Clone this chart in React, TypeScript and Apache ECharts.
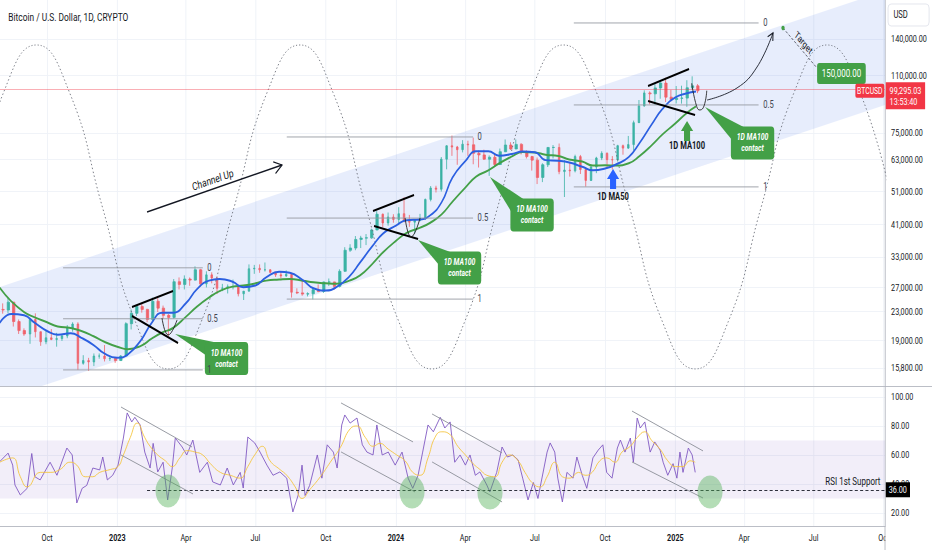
import React, { useEffect, useRef } from 'react';
import * as echarts from 'echarts';

const FONT = 'Roboto, "Noto Sans", "DejaVu Sans", sans-serif';
const DAY_MS = 86400000;
const ORIGIN = Date.UTC(2022, 9, 1);
const OUTER_W = 932;
const OUTER_H = 550;
const INNER_W = 1226;
const SQUASH = OUTER_W / INNER_W;
const AXIS_W = 61.8;

const TITLE = 'Bitcoin / U.S. Dollar, 1D, CRYPTO';
const X_MIN_DAY = -61.6;
const X_MAX_DAY = 1097.6;
const PRICE_MIN = 14022;
const PRICE_MAX = 181300;
const RSI_MIN = 11;
const RSI_MAX = 106.9;

const X_TICK_DATES = ['2022-10-01', '2023-01-01', '2023-04-01', '2023-07-01', '2023-10-01', '2024-01-01', '2024-04-01', '2024-07-01', '2024-10-01', '2025-01-01', '2025-04-01', '2025-07-01', '2025-10-01'];
const X_TICK_LABELS = ['Oct', '2023', 'Apr', 'Jul', 'Oct', '2024', 'Apr', 'Jul', 'Oct', '2025', 'Apr', 'Jul', 'Oct'];
const PRICE_TICKS = [15800, 19000, 23000, 27000, 33000, 41000, 51000, 63000, 75000, 110000, 140000];
const RSI_TICKS = [20, 40, 60, 80, 100];

const WEEK_START = [
  '2022-08-01', '2022-08-08', '2022-08-15', '2022-08-22', '2022-08-29', '2022-09-05', '2022-09-12', '2022-09-19', '2022-09-26', '2022-10-03', '2022-10-10', '2022-10-17', '2022-10-24', '2022-10-31', '2022-11-07', '2022-11-14', '2022-11-21', '2022-11-28', '2022-12-05', '2022-12-12', '2022-12-19', '2022-12-26',
  '2023-01-02', '2023-01-09', '2023-01-16', '2023-01-23', '2023-01-30', '2023-02-06', '2023-02-13', '2023-02-20', '2023-02-27', '2023-03-06', '2023-03-13', '2023-03-20', '2023-03-27', '2023-04-03', '2023-04-10', '2023-04-17', '2023-04-24', '2023-05-01', '2023-05-08', '2023-05-15', '2023-05-22', '2023-05-29', '2023-06-05', '2023-06-12', '2023-06-19', '2023-06-26', '2023-07-03', '2023-07-10', '2023-07-17', '2023-07-24', '2023-07-31', '2023-08-07', '2023-08-14', '2023-08-21', '2023-08-28', '2023-09-04', '2023-09-11', '2023-09-18', '2023-09-25', '2023-10-02', '2023-10-09', '2023-10-16', '2023-10-23', '2023-10-30', '2023-11-06', '2023-11-13', '2023-11-20', '2023-11-27', '2023-12-04', '2023-12-11', '2023-12-18', '2023-12-25',
  '2024-01-01', '2024-01-08', '2024-01-15', '2024-01-22', '2024-01-29', '2024-02-05', '2024-02-12', '2024-02-19', '2024-02-26', '2024-03-04', '2024-03-11', '2024-03-18', '2024-03-25', '2024-04-01', '2024-04-08', '2024-04-15', '2024-04-22', '2024-04-29', '2024-05-06', '2024-05-13', '2024-05-20', '2024-05-27', '2024-06-03', '2024-06-10', '2024-06-17', '2024-06-24', '2024-07-01', '2024-07-08', '2024-07-15', '2024-07-22', '2024-07-29', '2024-08-05', '2024-08-12', '2024-08-19', '2024-08-26', '2024-09-02', '2024-09-09', '2024-09-16', '2024-09-23', '2024-09-30', '2024-10-07', '2024-10-14', '2024-10-21', '2024-10-28', '2024-11-04', '2024-11-11', '2024-11-18', '2024-11-25', '2024-12-02', '2024-12-09', '2024-12-16', '2024-12-23', '2024-12-30',
  '2025-01-06', '2025-01-13', '2025-01-20', '2025-01-27',
];
const OPEN = [
  23300, 23200, 24450, 21500, 20250, 19800, 21800, 20100, 18800, 19300, 19100, 19200, 19550, 20600, 21150, 16300, 16600, 16450, 17100, 17100, 16800, 16850,
  16600, 17100, 21200, 22700, 23750, 23300, 21800, 24600, 23500, 22400, 22100, 28000, 27500, 28500, 28300, 30300, 27600, 29300, 28700, 26800, 26850, 27100, 27100, 25850, 26300, 30500, 30600, 30300, 30300, 29800, 29300, 29100, 29400, 26100, 26000, 25800, 25850, 26550, 26250, 27950, 27950, 27150, 30000, 34500, 35000, 37050, 37400, 37450, 39450, 43800, 41350, 43000,
  42300, 43950, 41800, 41550, 42050, 42600, 48300, 52100, 51700, 63100, 68950, 68400, 67200, 69700, 69400, 65600, 64900, 63100, 63900, 60900, 66300, 69300, 67500, 69600, 66200, 64200, 62700, 55900, 60800, 68200, 68200, 58100, 58700, 58400, 64200, 58900, 54800, 59900, 63600, 65600, 62900, 62800, 69000, 67900, 69500, 80400, 89800, 97900, 97300, 101200, 104500, 95200, 93700,
  94500, 94600, 101300, 102600,
];
const HIGH = [
  24250, 25200, 24450, 21800, 20550, 21800, 22700, 20100, 20300, 20450, 19950, 19700, 21000, 21400, 21400, 17200, 16900, 17400, 17400, 18400, 17000, 16950,
  17200, 21400, 23300, 23800, 24250, 23400, 25200, 25100, 23900, 22600, 28500, 28800, 29200, 28800, 31000, 30500, 30000, 29800, 28800, 27600, 27500, 28400, 27300, 26200, 31400, 31300, 31400, 31800, 30400, 29900, 30000, 30200, 29700, 26800, 28200, 26100, 26900, 27500, 28000, 28600, 28000, 30400, 35200, 35900, 37900, 37950, 38400, 39800, 44700, 44000, 44300, 43800,
  45900, 49000, 43600, 42200, 43900, 48600, 52800, 52900, 64000, 69200, 73800, 68900, 71600, 71300, 72800, 66800, 67200, 64700, 65500, 67700, 71900, 70600, 71900, 70200, 66900, 64500, 63800, 61400, 68300, 69300, 70000, 62700, 61800, 65000, 64900, 59800, 60600, 64100, 66500, 66000, 64400, 69400, 69500, 73600, 81500, 93400, 99600, 98900, 104000, 105200, 108300, 99900, 102500,
  102700, 106500, 109300, 103800,
];
const LOW = [
  22650, 22700, 20800, 19800, 19550, 18550, 19350, 18300, 18500, 19000, 18200, 18900, 19250, 20100, 15600, 16150, 15500, 16000, 16800, 16500, 16550, 16350,
  16550, 17100, 20400, 22300, 22800, 21400, 21400, 22900, 21900, 19550, 21900, 26600, 26600, 27250, 28200, 27100, 26950, 27700, 25800, 26300, 25900, 26600, 25400, 24800, 26250, 29500, 29700, 29950, 29600, 28900, 28600, 28900, 25200, 25800, 25500, 25400, 24900, 26100, 26000, 27200, 26550, 26950, 29900, 34100, 34500, 35000, 35700, 37200, 39450, 40200, 40600, 41400,
  40750, 41500, 40300, 38500, 41800, 42200, 47700, 50600, 50900, 59000, 64500, 60800, 66000, 64500, 61000, 59700, 62800, 56500, 60200, 60700, 66100, 67100, 67500, 65100, 63400, 58500, 53500, 54200, 59900, 63400, 57100, 49100, 56200, 57800, 57200, 52600, 54600, 57500, 62700, 59900, 58900, 62100, 65000, 67500, 66800, 80200, 89400, 90800, 90500, 94200, 92200, 92600, 91300,
  91200, 89300, 100100, 97800,
];
const CLOSE = [
  23200, 24450, 21500, 20250, 19800, 21800, 20100, 18800, 19300, 19100, 19200, 19550, 20600, 21150, 16300, 16600, 16450, 17100, 17100, 16800, 16850, 16600,
  17100, 21200, 22700, 23750, 23300, 21800, 24600, 23500, 22400, 22100, 28000, 27500, 28500, 28300, 30300, 27600, 29300, 28700, 26800, 26850, 27100, 27100, 25850, 26300, 30500, 30600, 30300, 30300, 29800, 29300, 29100, 29400, 26100, 26000, 25800, 25850, 26550, 26250, 27950, 27950, 27150, 30000, 34500, 35000, 37050, 37400, 37450, 39450, 43800, 41350, 43000, 42300,
  43950, 41800, 41550, 42050, 42600, 48300, 52100, 51700, 63100, 68950, 68400, 67200, 69700, 69400, 65600, 64900, 63100, 63900, 60900, 66300, 69300, 67500, 69600, 66200, 64200, 62700, 55900, 60800, 68200, 68200, 58100, 58700, 58400, 64200, 58900, 54800, 59900, 63600, 65600, 62900, 62800, 69000, 67900, 69500, 80400, 89800, 97900, 97300, 101200, 104500, 95200, 93700, 94500,
  94600, 101300, 102600, 99295,
];

const MA50 = [
  ['2022-07-31', 21300], ['2022-08-15', 22600], ['2022-09-01', 22400], ['2022-09-15', 21300], ['2022-10-01', 20200], ['2022-10-15', 19700], ['2022-11-01', 19900], ['2022-11-15', 19300], ['2022-12-01', 18400], ['2022-12-15', 17400],
  ['2023-01-01', 16900], ['2023-01-15', 17300], ['2023-02-01', 19000], ['2023-02-15', 21300], ['2023-03-01', 22800], ['2023-03-15', 22800], ['2023-04-01', 24300], ['2023-04-15', 26600], ['2023-05-01', 28200], ['2023-05-15', 28500], ['2023-06-01', 28000], ['2023-06-15', 27000], ['2023-07-01', 27300], ['2023-07-15', 28800], ['2023-08-01', 29900], ['2023-08-15', 29700], ['2023-09-01', 28300], ['2023-09-15', 26800], ['2023-10-01', 26400], ['2023-10-15', 27000], ['2023-11-01', 29000], ['2023-11-15', 31800], ['2023-12-01', 35400], ['2023-12-15', 38500],
  ['2024-01-01', 40600], ['2024-01-15', 42100], ['2024-02-01', 42300], ['2024-02-15', 43500], ['2024-03-01', 47500], ['2024-03-15', 55800], ['2024-04-01', 62300], ['2024-04-15', 66500], ['2024-05-01', 66500], ['2024-05-15', 64600], ['2024-06-01', 65300], ['2024-06-15', 66400], ['2024-07-01', 66100], ['2024-07-15', 62700], ['2024-08-01', 62400], ['2024-08-15', 61700], ['2024-09-01', 60000], ['2024-09-15', 58600], ['2024-10-01', 59300], ['2024-10-15', 60900], ['2024-11-01', 64000], ['2024-11-15', 70200], ['2024-12-01', 79500], ['2024-12-15', 88000],
  ['2025-01-01', 95000], ['2025-01-15', 97500], ['2025-01-28', 98800],
];
const MA100 = [
  ['2022-07-31', 26900], ['2022-08-15', 24600], ['2022-09-01', 22900], ['2022-09-15', 22100], ['2022-10-01', 21400], ['2022-10-15', 20800], ['2022-11-01', 20600], ['2022-11-15', 20200], ['2022-12-01', 19500], ['2022-12-15', 18800],
  ['2023-01-01', 18200], ['2023-01-15', 17900], ['2023-02-01', 18300], ['2023-02-15', 19200], ['2023-03-01', 20000], ['2023-03-15', 20600], ['2023-04-01', 22200], ['2023-04-15', 23700], ['2023-05-01', 25200], ['2023-05-15', 26300], ['2023-06-01', 27100], ['2023-06-15', 27300], ['2023-07-01', 27700], ['2023-07-15', 28200], ['2023-08-01', 28400], ['2023-08-15', 28500], ['2023-09-01', 28200], ['2023-09-15', 27900], ['2023-10-01', 27700], ['2023-10-15', 27600], ['2023-11-01', 28200], ['2023-11-15', 29200], ['2023-12-01', 31500], ['2023-12-15', 34000],
  ['2024-01-01', 36700], ['2024-01-15', 38700], ['2024-02-01', 40000], ['2024-02-15', 41400], ['2024-03-01', 43800], ['2024-03-15', 47600], ['2024-04-01', 52300], ['2024-04-15', 56200], ['2024-05-01', 58600], ['2024-05-15', 61300], ['2024-06-01', 64300], ['2024-06-15', 66200], ['2024-07-01', 66000], ['2024-07-15', 65000], ['2024-08-01', 64400], ['2024-08-15', 63000], ['2024-09-01', 62100], ['2024-09-15', 60500], ['2024-10-01', 60600], ['2024-10-15', 60500], ['2024-11-01', 61400], ['2024-11-15', 64400], ['2024-12-01', 69200], ['2024-12-15', 74300],
  ['2025-01-01', 80000], ['2025-01-15', 85400], ['2025-01-28', 89500],
];

// RSI (days after 2022-10-01, value)
const RSI = [
  [-62, 55.4], [-51, 61.3], [-45, 53], [-42, 39.3], [-35, 32.4], [-26, 37], [-20, 61], [-16, 45], [-9, 42.8], [4, 55], [13, 46], [26, 64.8], [33, 60], [39, 26.9], [46, 37], [52, 39], [60, 51], [69, 49.7], [73, 58.6], [79, 42.8], [86, 46], [93, 53],
  [100, 71.7], [105, 89], [111, 82.8], [115, 86], [122, 80.7], [128, 62], [135, 51], [139, 68], [145, 48.3], [152, 55], [158, 29], [164, 51], [168, 71.7], [177, 65.5], [183, 60], [191, 70.3], [200, 48], [210, 55], [217, 41.4], [227, 39.3], [236, 51], [244, 39.3], [253, 48], [257, 37.2],
  [263, 72.4], [272, 68.3], [279, 62], [288, 53], [296, 46], [305, 48.3], [314, 44], [322, 20.7], [329, 32.4], [334, 53], [338, 32], [344, 39], [354, 60], [360, 44], [367, 67], [375, 62], [380, 51], [386, 80.7], [390, 87.6], [397, 82], [406, 85.5], [413, 67], [419, 62], [427, 60],
  [432, 80.7], [439, 60], [447, 62], [456, 53], [465, 62], [473, 44], [479, 37], [486, 46], [492, 62], [499, 80.7], [506, 76], [515, 86], [521, 78.6], [528, 82.8], [534, 55], [541, 60], [548, 53], [554, 60], [561, 46], [567, 48.3], [576, 39.3], [580, 34.5], [589, 48], [596, 65.5],
  [603, 58.6], [610, 60], [617, 56.6], [623, 44], [630, 29], [637, 41], [643, 30], [655, 62], [659, 68.3], [665, 62], [669, 44], [675, 27.6], [681, 48], [689, 44], [694, 58.6], [701, 46], [707, 37], [715, 58], [722, 63.4], [728, 67], [733, 48], [740, 44], [747, 64.8], [751, 70.3],
  [757, 62], [764, 71.7], [768, 55], [773, 85.5], [777, 78.6], [783, 82.8], [790, 62], [796, 69], [803, 63.4], [807, 55], [813, 46], [820, 54], [825, 44], [829, 62], [833, 48], [840, 64.8], [845, 60], [849, 48],
];
const RSI_MA = [
  [-62, 55], [-45, 58], [-35, 45], [-26, 38], [-9, 48], [4, 48], [17, 50], [30, 55], [39, 53], [50, 45], [60, 45], [69, 48], [83, 50], [93, 52], [100, 60], [109, 72], [118, 82], [128, 72], [135, 66], [145, 60], [155, 56], [164, 52], [174, 58], [183, 63], [194, 62], [204, 60], [214, 54], [227, 48],
  [240, 46], [253, 44], [263, 52], [272, 60], [282, 66], [292, 56], [305, 50], [314, 46], [325, 38], [334, 30], [344, 36], [358, 45], [371, 55], [384, 65], [397, 78], [406, 80], [417, 72], [427, 66], [436, 68], [447, 64], [458, 60], [469, 56], [479, 48], [489, 46], [499, 58], [508, 72],
  [517, 76], [528, 74], [538, 66], [548, 60], [558, 54], [567, 50], [576, 46], [587, 45], [596, 55], [606, 60], [617, 56], [626, 48], [637, 40], [646, 38], [655, 45], [665, 55], [675, 45], [685, 44], [696, 48], [705, 46], [714, 48], [724, 56], [733, 58], [744, 55], [753, 62], [764, 66],
  [773, 72], [783, 76], [792, 70], [803, 64], [813, 56], [823, 52], [833, 52], [842, 56], [849, 55],
];

const LAST_PRICE = 99295.03;
const COUNTDOWN = '13:53:40';
const RSI_SUPPORT = 36;
const SUPPORT_FROM_DAY = 131;
const SUPPORT_TEXT = 'RSI 1st Support';

// Drawings, in data coordinates: [days after 2022-10-01, price]
const CHANNEL_DAYS = [-61.6, 1097.6];
const CHANNEL_UPPER = [27030, 192500];
const CHANNEL_LOWER = [12780, 90380];
const SINE_POINTS = [
  [-100.0, 45950], [-56.9, 98250], [-13.8, 134540], [29.4, 98250], [72.5, 45950], [115.7, 21490], [158.8, 15700], [202.0, 21490], [245.1, 45950], [288.3, 98250], [331.4, 134540], [374.5, 98250], [417.7, 45950], [460.8, 21490], [504.0, 15700],
  [547.1, 21490], [590.3, 45950], [633.4, 98250], [676.5, 134540], [719.7, 98250], [762.8, 45950], [806.0, 21490], [849.1, 15700], [892.3, 21490], [935.4, 45950], [978.5, 98250], [1021.7, 134540], [1064.8, 98250], [1108.0, 45950],
];
const FIB_SPANS = [[21, 204], [314, 558], [690, 932]];
const FIB_PRICES = [[30700, 21900, 15600], [73100, 42700, 24950], [155700, 90400, 52500]];
const FIB_LABELS = ['0', '0.5', '1'];
const CHANNEL_ARROW = [[131, 44450], [307.8, 60720]];
const FLAG_LINES = [
  [[111.3, 23670], [165, 26330]], [[111.3, 22300], [171.6, 18650]],
  [[427, 44750], [480.7, 49740]], [[428.3, 40520], [486, 37170]],
  [[787.2, 102500], [840.9, 114700]], [[787.2, 92800], [848.8, 84570]],
];
const CUPS = [
  [[150.6, 22000], [158.5, 19670], [170.3, 21730]],
  [[469, 42720], [476.8, 37660], [488.6, 42720]],
  [[844.4, 104370], [851.0, 89360], [855.3, 87430], [860.5, 89780], [864.1, 99360]],
];
const PROJECTION = [[864.5, 93400], [903.8, 101200], [930, 116300], [950.9, 145700]];
const TARGET_LINE = [[964, 150600], [1008.5, 115500]];
const TARGET_BOX = [1040.5, 111400];
const TARGET_LABEL = '150,000.00';
const CALLOUTS = [
  [[167.7, 19800], [235.1, 16830]],
  [[486, 36920], [540.3, 30660]],
  [[580.2, 56070], [635.3, 43580]],
  [[861.9, 89190], [924.1, 70250]],
];
const MA50_ARROW = [741.4, 59120];
const MA100_ARROW = [838.3, 81280];
const RSI_TRENDS = [
  [[96.9, 93.1], [189.9, 65.5]], [[96.9, 60.0], [191.2, 33.1]],
  [[385.1, 95.9], [479.4, 69.0]], [[385.1, 62.1], [482.0, 34.5]],
  [[504.3, 88.3], [596.0, 61.4]], [[504.3, 55.2], [596.0, 27.6]],
  [[766.2, 90.3], [859.2, 62.8]], [[766.2, 55.2], [859.2, 30.3]],
];
const RSI_CIRCLES = [[158.5, 35.2], [478.1, 34.5], [580.2, 33.8], [868.4, 34.5]];

const GREEN = '#43a047';
const BLUE = '#2b5fe0';

const dayToTime = (d: number) => ORIGIN + d * DAY_MS;
const lg = (v: number) => Math.log10(v);
const fmtNum = (v: number) => v.toLocaleString('en-US', { minimumFractionDigits: 2, maximumFractionDigits: 2 });
const X_TICK_TIMES = X_TICK_DATES.map((s) => Date.parse(s));

function buildOption() {
  const candles = WEEK_START.map((w, i) => [Date.parse(w) + 3.5 * DAY_MS, lg(OPEN[i]), lg(CLOSE[i]), lg(LOW[i]), lg(HIGH[i])]);
  const gridLine = { show: true, lineStyle: { color: '#eef1f7', width: 1 } };
  const baseX = {
    type: 'value',
    min: dayToTime(X_MIN_DAY),
    max: dayToTime(X_MAX_DAY),
    axisLine: { show: true, onZero: false, lineStyle: { color: '#b2b5be' } },
    axisTick: { show: false, customValues: X_TICK_TIMES },
    splitLine: gridLine,
  };
  return {
    animation: false,
    backgroundColor: '#ffffff',
    textStyle: { fontFamily: FONT },
    title: { text: TITLE, left: 6, top: 7, textStyle: { fontSize: 11, fontWeight: 'normal', color: '#131722', fontFamily: FONT } },
    grid: [
      { left: 0, right: AXIS_W, top: 0, height: 386 },
      { left: 0, right: AXIS_W, top: 387, height: 139 },
    ],
    xAxis: [
      { ...baseX, gridIndex: 0, axisLabel: { show: false, customValues: X_TICK_TIMES } },
      {
        ...baseX,
        gridIndex: 1,
        axisLabel: {
          customValues: X_TICK_TIMES,
          margin: 7,
          fontSize: 9.5,
          color: '#131722',
          fontFamily: FONT,
          formatter: (v: number) => {
            const i = X_TICK_TIMES.findIndex((t) => Math.abs(t - v) < DAY_MS);
            const s = i >= 0 ? X_TICK_LABELS[i] : '';
            return /^\d{4}$/.test(s) ? `{y|${s}}` : s;
          },
          rich: { y: { fontWeight: 'bold', fontSize: 9.5, color: '#131722', fontFamily: FONT } },
        },
      },
    ],
    yAxis: [
      {
        type: 'value', gridIndex: 0, position: 'right', min: lg(PRICE_MIN), max: lg(PRICE_MAX),
        axisLine: { show: true, onZero: false, lineStyle: { color: '#b2b5be' } },
        axisTick: { show: false, customValues: PRICE_TICKS.map(lg) },
        axisLabel: { customValues: PRICE_TICKS.map(lg), formatter: (v: number) => fmtNum(Math.pow(10, v)), fontSize: 9.5, color: '#131722', margin: 8, fontFamily: FONT },
        splitLine: gridLine,
      },
      {
        type: 'value', gridIndex: 1, position: 'right', min: RSI_MIN, max: RSI_MAX,
        axisLine: { show: true, onZero: false, lineStyle: { color: '#b2b5be' } },
        axisTick: { show: false, customValues: RSI_TICKS },
        axisLabel: { customValues: RSI_TICKS, formatter: (v: number) => v.toFixed(2), fontSize: 9.5, color: '#131722', margin: 8, fontFamily: FONT },
        splitLine: gridLine,
      },
    ],
    series: [
      {
        type: 'custom', name: 'Channel', xAxisIndex: 0, yAxisIndex: 0, clip: true, silent: true, z: 1,
        data: [[dayToTime(CHANNEL_DAYS[0]), lg(CHANNEL_LOWER[0])]],
        encode: { x: 0, y: 1 },
        renderItem: (_params: any, api: any) => ({
          type: 'polygon',
          shape: {
            points: [
              api.coord([dayToTime(CHANNEL_DAYS[0]), lg(CHANNEL_UPPER[0])]),
              api.coord([dayToTime(CHANNEL_DAYS[1]), lg(CHANNEL_UPPER[1])]),
              api.coord([dayToTime(CHANNEL_DAYS[1]), lg(CHANNEL_LOWER[1])]),
              api.coord([dayToTime(CHANNEL_DAYS[0]), lg(CHANNEL_LOWER[0])]),
            ],
          },
          style: { fill: 'rgba(72,114,230,0.13)' },
        }),
      },
      {
        type: 'line', name: 'Cycles', xAxisIndex: 0, yAxisIndex: 0, silent: true, smooth: true, symbol: 'none',
        data: SINE_POINTS.map(([d, p]) => [dayToTime(d), lg(p)]),
        lineStyle: { color: '#6a6d78', width: 1, type: [1.5, 2.5] },
      },
      {
        type: 'candlestick', name: 'BTCUSD', xAxisIndex: 0, yAxisIndex: 0, silent: true,
        data: candles, encode: { x: 0, y: [1, 2, 3, 4] }, barWidth: 3,
        itemStyle: { color: '#3bb3a5', color0: '#f0626b', borderColor: '#3bb3a5', borderColor0: '#f0626b', borderWidth: 0.9 },
        markLine: {
          silent: true, symbol: 'none', animation: false,
          data: [{ yAxis: lg(LAST_PRICE) }],
          lineStyle: { color: 'rgba(242,54,69,0.45)', width: 1, type: 'solid' },
          label: {
            position: 'end', distance: 1, offset: [0, 6], formatter: `${fmtNum(LAST_PRICE)}\n${COUNTDOWN}`,
            backgroundColor: '#f23645', color: '#ffffff', padding: [3, 5, 2, 5], fontSize: 9.5, lineHeight: 11, fontFamily: FONT,
          },
        },
      },
      {
        type: 'line', name: '1D MA100', xAxisIndex: 0, yAxisIndex: 0, silent: true, smooth: true, symbol: 'none',
        data: MA100.map(([s, v]) => [Date.parse(s as string), lg(v as number)]),
        lineStyle: { color: GREEN, width: 2 },
      },
      {
        type: 'line', name: '1D MA50', xAxisIndex: 0, yAxisIndex: 0, silent: true, smooth: true, symbol: 'none',
        data: MA50.map(([s, v]) => [Date.parse(s as string), lg(v as number)]),
        lineStyle: { color: BLUE, width: 2 },
      },
      {
        type: 'line', name: 'RSI', xAxisIndex: 1, yAxisIndex: 1, silent: true, symbol: 'none',
        data: RSI.map(([d, v]) => [dayToTime(d), v]),
        lineStyle: { color: '#7e57c2', width: 1 },
        markArea: { silent: true, itemStyle: { color: 'rgba(126,87,194,0.1)' }, data: [[{ yAxis: 30 }, { yAxis: 70 }]] },
        markLine: {
          silent: true, symbol: 'none', animation: false,
          data: [
            [
              {
                coord: [dayToTime(SUPPORT_FROM_DAY), RSI_SUPPORT],
                lineStyle: { color: '#131722', width: 1, type: [4, 3] },
                label: { position: 'end', distance: 1, formatter: RSI_SUPPORT.toFixed(2), backgroundColor: '#000000', color: '#ffffff', padding: [3, 4, 2, 4], fontSize: 9.5, fontFamily: FONT },
              },
              { coord: [dayToTime(X_MAX_DAY), RSI_SUPPORT] },
            ],
          ],
        },
      },
      {
        type: 'line', name: 'RSI MA', xAxisIndex: 1, yAxisIndex: 1, silent: true, smooth: true, symbol: 'none',
        data: RSI_MA.map(([d, v]) => [dayToTime(d), v]),
        lineStyle: { color: '#f5c53d', width: 1 },
      },
    ],
  };
}

function buildGraphics(chart: any) {
  const P = (d: number, price: number) => chart.convertToPixel({ gridIndex: 0 }, [dayToTime(d), lg(price)]) as number[];
  const R = (d: number, v: number) => chart.convertToPixel({ gridIndex: 1 }, [dayToTime(d), v]) as number[];
  const rightX = P(X_MAX_DAY, PRICE_MAX)[0];
  const priceBottom = P(X_MAX_DAY, PRICE_MIN)[1];
  const rsiBottom = R(X_MAX_DAY, RSI_MIN)[1];
  const Z = 100;
  const els: any[] = [];
  const seg = (a: number[], b: number[], stroke: string, lineWidth: number, lineDash?: number[]) =>
    els.push({ type: 'line', silent: true, z: Z, shape: { x1: a[0], y1: a[1], x2: b[0], y2: b[1] }, style: { stroke, lineWidth, lineDash, fill: 'none' } });
  const poly = (points: number[][], stroke: string, lineWidth: number, smooth = 0) =>
    els.push({ type: 'polyline', silent: true, z: Z, shape: { points, smooth }, style: { stroke, lineWidth, fill: 'none' } });
  const label = (x: number, y: number, str: string, o: any = {}) =>
    els.push({
      type: 'text', silent: true, z: Z + 2, x, y, rotation: o.rotation || 0,
      style: {
        text: str, fill: o.fill || '#131722', fontSize: o.size || 10, fontFamily: FONT, fontWeight: o.weight || 'normal', fontStyle: o.fontStyle || 'normal',
        align: o.align || 'left', textAlign: o.align || 'left', verticalAlign: 'middle', textVerticalAlign: 'middle', lineHeight: o.lineHeight,
      },
    });
  const chevron = (tip: number[], from: number[], len: number) => {
    const dx = tip[0] - from[0];
    const dy = tip[1] - from[1];
    const L = Math.hypot(dx, dy);
    const ux = dx / L;
    const uy = dy / L;
    const arm = (a: number) => [tip[0] - len * (ux * Math.cos(a) - uy * Math.sin(a)), tip[1] - len * (ux * Math.sin(a) + uy * Math.cos(a))];
    poly([arm(Math.PI / 6), tip, arm(-Math.PI / 6)], '#131722', 1.3);
  };

  // Fibonacci levels
  FIB_SPANS.forEach((span, i) => {
    FIB_PRICES[i].forEach((price, j) => {
      const a = P(span[0], price);
      const b = P(span[1], price);
      seg(a, b, '#9598a1', 1);
      label(b[0] + 6, b[1], FIB_LABELS[j], { fill: '#434651', size: 10 });
    });
  });

  // Channel Up arrow
  const ca = P(CHANNEL_ARROW[0][0], CHANNEL_ARROW[0][1]);
  const cb = P(CHANNEL_ARROW[1][0], CHANNEL_ARROW[1][1]);
  seg(ca, cb, '#131722', 1.5);
  chevron(cb, ca, 12);
  {
    const dx = cb[0] - ca[0];
    const dy = cb[1] - ca[1];
    const L = Math.hypot(dx, dy);
    const nx = dy / L;
    const ny = -dx / L;
    const mx = (ca[0] + cb[0]) / 2 + nx * 9;
    const my = (ca[1] + cb[1]) / 2 + ny * 9;
    label(mx, my, 'Channel Up', { size: 11, align: 'center', rotation: -Math.atan2(dy, dx) });
  }

  // Flag / pennant lines
  FLAG_LINES.forEach(([a, b]) => seg(P(a[0], a[1]), P(b[0], b[1]), '#000000', 2));
  CUPS.forEach((pts) => poly(pts.map(([d, p]) => P(d, p)), '#222222', 1, 0.5));

  // Projection
  const proj = PROJECTION.map(([d, p]) => P(d, p));
  poly(proj, '#131722', 1, 0.45);
  chevron(proj[proj.length - 1], proj[proj.length - 2], 8);

  // Target
  const ta = P(TARGET_LINE[0][0], TARGET_LINE[0][1]);
  const tb = P(TARGET_LINE[1][0], TARGET_LINE[1][1]);
  seg(ta, tb, '#50535e', 1, [3, 2]);
  els.push({ type: 'circle', silent: true, z: Z + 1, shape: { cx: ta[0], cy: ta[1], r: 2.2 }, style: { fill: GREEN } });
  {
    const dx = tb[0] - ta[0];
    const dy = tb[1] - ta[1];
    const L = Math.hypot(dx, dy);
    const nx = dy / L;
    const ny = -dx / L;
    label((ta[0] + tb[0]) / 2 + nx * 7, (ta[1] + tb[1]) / 2 + ny * 7, 'Target', { size: 10, align: 'center', rotation: -Math.atan2(dy, dx) });
  }
  const tc = P(TARGET_BOX[0], TARGET_BOX[1]);
  els.push({ type: 'rect', silent: true, z: Z + 1, shape: { x: tc[0] - 32, y: tc[1] - 10.5, width: 64, height: 21, r: 3 }, style: { fill: GREEN } });
  label(tc[0], tc[1], TARGET_LABEL, { fill: '#ffffff', size: 10.5, align: 'center' });

  // MA100 contact callouts
  CALLOUTS.forEach(([tipD, cenD]) => {
    const tip = P(tipD[0], tipD[1]);
    const c = P(cenD[0], cenD[1]);
    const w = 57;
    const h = 33;
    const left = c[0] - w / 2;
    const top = c[1] - h / 2;
    els.push({ type: 'polygon', silent: true, z: Z + 1, shape: { points: [tip, [left + 1, top + 13], [left + 18, top + 1]] }, style: { fill: GREEN } });
    els.push({ type: 'rect', silent: true, z: Z + 1, shape: { x: left, y: top, width: w, height: h, r: 4 }, style: { fill: GREEN } });
    label(c[0], c[1], '1D MA100\ncontact', { fill: '#ffffff', size: 9, weight: 'bold', fontStyle: 'italic', align: 'center', lineHeight: 11 });
  });

  // Up arrows
  const upArrow = (tip: number[], color: string, text: string, textGap: number) => {
    const [x, y] = tip;
    els.push({
      type: 'polygon', silent: true, z: Z + 1,
      shape: { points: [[x, y], [x + 8, y + 10], [x + 4, y + 10], [x + 4, y + 20], [x - 4, y + 20], [x - 4, y + 10], [x - 8, y + 10]] },
      style: { fill: color },
    });
    label(x, y + textGap, text, { size: 10, weight: 'bold', align: 'center' });
  };
  upArrow(P(MA50_ARROW[0], MA50_ARROW[1]), '#2962ff', '1D MA50', 28);
  upArrow(P(MA100_ARROW[0], MA100_ARROW[1]), GREEN, '1D MA100', 25);

  // RSI drawings
  RSI_TRENDS.forEach(([a, b]) => seg(R(a[0], a[1]), R(b[0], b[1]), '#8a8d96', 1));
  RSI_CIRCLES.forEach(([d, v]) => {
    const c = R(d, v);
    els.push({ type: 'circle', silent: true, z: Z, shape: { cx: c[0], cy: c[1], r: 16.5 }, style: { fill: 'rgba(76,175,80,0.42)' } });
  });
  const sup = R(X_MAX_DAY, RSI_SUPPORT);
  label(sup[0] - 6, sup[1] - 9, SUPPORT_TEXT, { size: 10.5, align: 'right' });

  // Symbol tag on the price line
  const py = P(X_MAX_DAY, LAST_PRICE)[1];
  els.push({ type: 'rect', silent: true, z: Z + 1, shape: { x: rightX - 39, y: py - 7, width: 38, height: 14, r: 2 }, style: { fill: '#f23645' } });
  label(rightX - 20, py, 'BTCUSD', { fill: '#ffffff', size: 9, align: 'center' });

  // Axis panel details
  els.push({ type: 'rect', silent: true, z: 90, shape: { x: rightX + 0.5, y: rsiBottom + 1, width: 80, height: 40 }, style: { fill: '#ffffff' } });
  seg([rightX, rsiBottom], [rightX, OUTER_H], '#b2b5be', 1);
  seg([rightX, priceBottom + 0.5], [INNER_W, priceBottom + 0.5], '#b2b5be', 1);
  els.push({ type: 'rect', silent: true, z: Z, shape: { x: rightX + 4, y: 4, width: 54, height: 22, r: 4 }, style: { fill: '#ffffff', stroke: '#e0e3eb', lineWidth: 1 } });
  label(rightX + 11, 15, 'USD', { size: 10 });

  return els;
}

export default function App() {
  const ref = useRef<HTMLDivElement>(null);
  useEffect(() => {
    if (!ref.current) return undefined;
    const chart = echarts.init(ref.current, null, { renderer: 'svg' });
    chart.setOption(buildOption() as any);
    chart.setOption({ graphic: { elements: buildGraphics(chart) } } as any);
    return () => chart.dispose();
  }, []);
  return (
    <div style={{ position: 'fixed', left: 0, top: 0, width: OUTER_W, height: OUTER_H, overflow: 'hidden', background: '#ffffff' }}>
      <div ref={ref} style={{ width: INNER_W, height: OUTER_H, transform: `scaleX(${SQUASH})`, transformOrigin: '0 0' }} />
    </div>
  );
}
